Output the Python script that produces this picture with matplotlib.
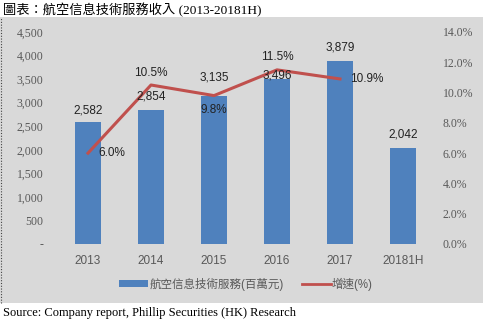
import matplotlib
matplotlib.use("Agg")
import matplotlib.pyplot as plt
from matplotlib.patches import Rectangle, Patch
from matplotlib.lines import Line2D

plt.rcParams['font.family'] = ['Liberation Sans', 'Noto Sans CJK TC']

# data
years = ["2013", "2014", "2015", "2016", "2017", "20181H"]
revenue = [2582, 2854, 3135, 3496, 3879, 2042]
growth = [6.0, 10.5, 9.8, 11.5, 10.9]
left_ticks = [0, 500, 1000, 1500, 2000, 2500, 3000, 3500, 4000, 4500]
right_ticks = [0, 2, 4, 6, 8, 10, 12, 14]

bar_col = "#4f81bd"
line_col = "#c0504d"
tick_col = "#595959"
px = 72 / 100  # points per pixel

fig = plt.figure(figsize=(4.87, 3.23), dpi=100)

# grey panel behind chart
panel = Rectangle((0.0, 1 - 303 / 323), 483 / 487, (303 - 17) / 323,
                  transform=fig.transFigure, facecolor="#d9d9d9",
                  edgecolor="none", zorder=-10)
fig.patches.append(panel)
fig.add_artist(Line2D([1 / 487, 1 / 487], [1 - 303 / 323, 1 - 17 / 323],
                      transform=fig.transFigure, color="#444444",
                      linestyle=(0, (1, 1.5)), linewidth=0.8, zorder=-5))

ax = fig.add_axes([56.5 / 487, 1 - 244 / 323, 378 / 487, 212 / 323])
ax.patch.set_alpha(0)
x = list(range(len(years)))
ax.bar(x, revenue, width=0.4, color=bar_col, zorder=2)
ax.set_xlim(-0.5, len(years) - 0.5)
ax.set_ylim(0, 4500)
ax.set_yticks(left_ticks)
ax.set_yticklabels(["-"] + [f"{v:,}" for v in left_ticks[1:]],
                   family="Liberation Serif", fontsize=8.5, color=tick_col)
ax.set_xticks(x)
ax.set_xticklabels(years, fontsize=8.5, color=tick_col)
ax.tick_params(length=0, pad=8)
ax.tick_params(axis="y", pad=9.5)
for s in ax.spines.values():
    s.set_visible(False)

ax2 = ax.twinx()
ax2.patch.set_alpha(0)
ax2.plot(x[:len(growth)], growth, color=line_col, linewidth=2.2, zorder=3)
ax2.set_ylim(0, 14)
ax2.set_yticks(right_ticks)
ax2.set_yticklabels([f"{v:.1f}%" for v in right_ticks],
                    family="Liberation Serif", fontsize=8.5, color=tick_col)
ax2.tick_params(length=0, pad=6)
for s in ax2.spines.values():
    s.set_visible(False)

# bar value labels, drawn on top of the line; lifts in pixels as in the original
bar_lift = [12, 13, 19, 4, 14, 13]
for xi, v, d in zip(x, revenue, bar_lift):
    ax2.annotate(f"{v:,}", (xi, v), xycoords=ax.transData,
                 xytext=(0, d * px), textcoords="offset points",
                 ha="center", va="center", fontsize=8.5, color="#222222",
                 zorder=5)

offsets = [(10, 0, "left"), (0, 12, "center"), (0, -14, "center"),
           (0, 13, "center"), (10, 0, "left")]
for xi, g, (dx, dy, ha) in zip(x, growth, offsets):
    ax2.annotate(f"{g:.1f}%", (xi, g), xytext=(dx * px, dy * px),
                 textcoords="offset points", ha=ha, va="center",
                 fontsize=8.5, color="#222222", zorder=5)

handles = [Patch(facecolor=bar_col, edgecolor="none"),
           Line2D([], [], color=line_col, linewidth=2)]
leg = fig.legend(handles, ["航空信息技術服務(百萬元)", "增速(%)"],
                 loc="center", bbox_to_anchor=(246 / 487, 1 - 284 / 323), ncol=2,
                 frameon=False, fontsize=8.3, handlelength=2.5,
                 handleheight=0.5, handletextpad=0.1, columnspacing=1.6)
for t in leg.get_texts():
    t.set_color(tick_col)

fig.text(3 / 487, 1 - 10 / 323, "圖表：航空信息技術服務收入 (2013-20181H)",
         family=["Liberation Serif", "Noto Sans CJK TC"], fontsize=9.5,
         ha="left", va="center", color="black")
fig.text(3 / 487, 1 - 313 / 323,
         "Source: Company report, Phillip Securities (HK) Research",
         family="Liberation Serif", fontsize=9, ha="left", va="center",
         color="black")

fig.savefig("out.png", dpi=100, facecolor="white")
